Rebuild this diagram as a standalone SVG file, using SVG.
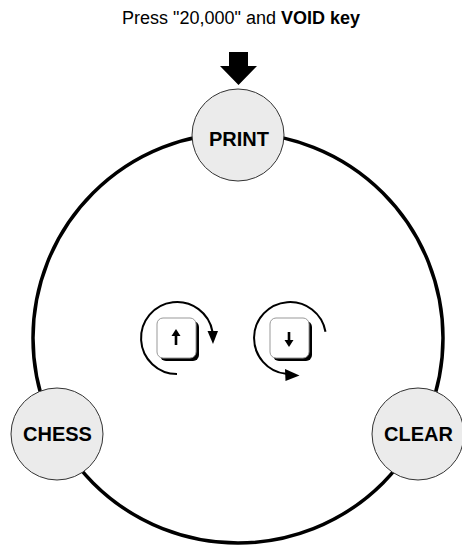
<svg xmlns="http://www.w3.org/2000/svg" width="462" height="546" viewBox="0 0 462 546">
<style>
.title{font-family:"Liberation Sans",Arial,sans-serif;font-size:18px;fill:#000}
.node circle{fill:#ebebeb;stroke:#333;stroke-width:1}
.node text{font-family:"Liberation Sans",Arial,sans-serif;font-size:20px;font-weight:bold;fill:#000;text-anchor:middle}
.ring{fill:none;stroke:#000;stroke-width:3.5}
.arc{fill:none;stroke:#000;stroke-width:2}
.keyshadow{fill:#000}
.keyface{fill:#fff;stroke:#999;stroke-width:1}
</style>
<rect width="462" height="546" fill="#fff"/>
<text class="title" x="241" y="24" text-anchor="middle">Press "20,000" and <tspan font-weight="bold">VOID key</tspan></text>
<g id="connectors">
<circle class="ring" cx="238" cy="338" r="205"/>
</g>
<g id="start-arrow">
<polygon points="229,52 248,52 248,66 257,66 238.5,85 220,66 229,66" fill="#000"/>
</g>
<g id="print" class="node">
<circle cx="238" cy="135" r="46"/>
<text x="239" y="146">PRINT</text>
</g>
<g id="chess" class="node">
<circle cx="57" cy="434" r="46"/>
<text x="57.5" y="441">CHESS</text>
</g>
<g id="clear" class="node">
<circle cx="418" cy="434" r="46"/>
<text x="418.5" y="441">CLEAR</text>
</g>
<g id="key-up">
<rect class="keyshadow" x="160" y="321" width="39" height="40" rx="6"/>
<rect class="keyface" x="157" y="318" width="39" height="40" rx="6"/>
<rect x="174.7" y="334" width="2.6" height="11" fill="#000"/>
<polygon points="171.5,336 180.5,336 176,329" fill="#000"/>
<path class="arc" d="M177,374 A36,36 0 1 1 212.5,331.7"/>
<polygon points="207.5,331 218,331 213,344" fill="#000"/>
</g>
<g id="key-down">
<rect class="keyshadow" x="273" y="321" width="39" height="40" rx="6"/>
<rect class="keyface" x="270" y="318" width="39" height="40" rx="6"/>
<rect x="287.7" y="332" width="2.6" height="10" fill="#000"/>
<polygon points="284.5,340 293.5,340 289,347" fill="#000"/>
<path class="arc" d="M325.5,331.7 A36,36 0 1 0 286,373.8"/>
<polygon points="285,369 299.5,375.5 285.5,381" fill="#000"/>
</g>
</svg>
